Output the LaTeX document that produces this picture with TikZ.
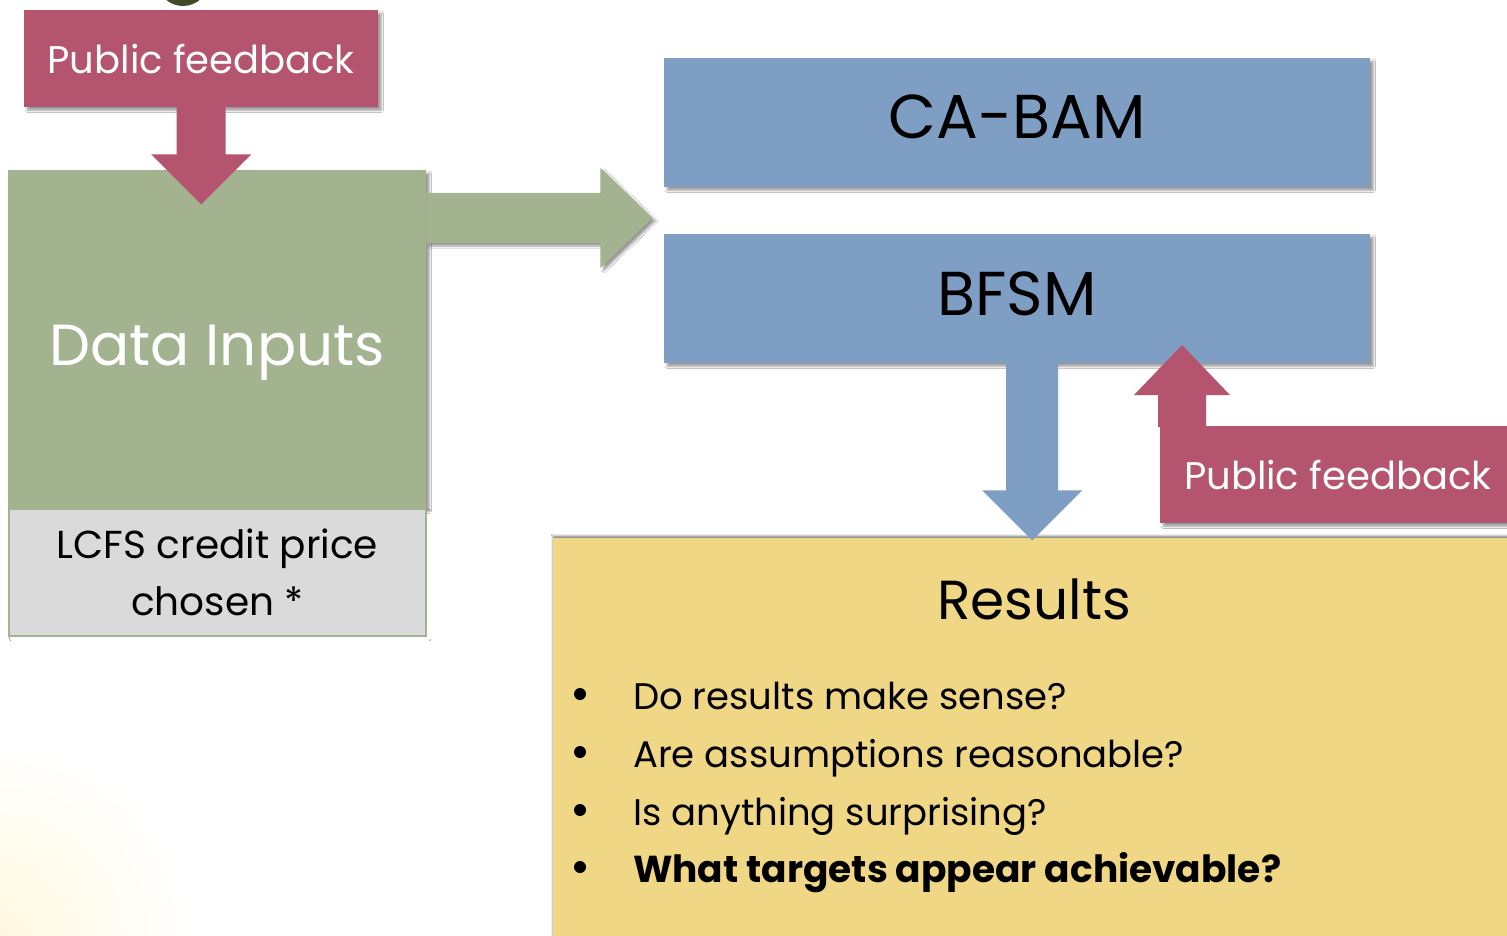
\documentclass[tikz,border=0pt]{standalone}
\usepackage{fontspec}
\setmainfont{Poppins}
\usetikzlibrary{calc,shadows.blur}
\definecolor{pinkc}{HTML}{B5546F}
\definecolor{greenc}{HTML}{A3B38F}
\definecolor{bluec}{HTML}{7F9EC3}
\definecolor{yellowc}{HTML}{F0D785}
\definecolor{greyc}{HTML}{DADADA}
\definecolor{olivec}{HTML}{414B27}
\definecolor{creamc}{HTML}{FFF8E0}
\tikzset{
  shad/.style={blur shadow={shadow xshift=3pt,shadow yshift=-3pt,shadow blur steps=6,shadow opacity=40}},
  box/.style={draw=none,inner sep=0pt,anchor=north west,align=center,shad},
  pbox/.style={box,fill=pinkc,text=white,font=\fontsize{38.5}{42}\selectfont},
  bbox/.style={box,fill=bluec,text=black,font=\fontsize{62}{66}\selectfont},
  item/.style={anchor=base west,inner sep=0pt,font=\fontsize{37}{40}\selectfont},
  dot/.style={circle,fill=black,inner sep=0pt,minimum size=12},
}
\begin{document}
\begin{tikzpicture}[x=1pt,y=-1pt]
\useasboundingbox (0,0) rectangle (1507,936);
\fill[white] (0,0) rectangle (1507,936);
\begin{scope}
\clip (0,0) rectangle (1507,936);
\shade[inner color=creamc,outer color=white] (0,936) circle (190);
\end{scope}
\fill[olivec] (183,-20) circle (26);
% boxes
\node[pbox,minimum width=354,minimum height=97] (pf1) at (24,10) {Public feedback};
\node[box,fill=greenc,text=white,minimum width=418,minimum height=338,font=\fontsize{58}{62}\selectfont] (di) at (8,170) {\raisebox{-14pt}[\height][\depth]{Data Inputs}};
\node[box,fill=greyc,draw=greenc,line width=2pt,minimum width=417,minimum height=127,text=black,font=\fontsize{39}{57}\selectfont,blur shadow={shadow opacity=0}] (lcfs) at (8,508) {LCFS credit price\\chosen *};
\node[bbox,minimum width=706,minimum height=129] (cabam) at (664,58) {\raisebox{6pt}[\height][\depth]{CA-BAM}};
\node[bbox,minimum width=706,minimum height=129] (bfsm) at (664,234) {\raisebox{5pt}[\height][\depth]{BFSM}};
\node[pbox,minimum width=355,minimum height=97] (pf2) at (1160,426) {Public feedback};
\node[box,fill=yellowc,minimum width=960,minimum height=400,blur shadow={shadow xshift=0pt,shadow yshift=2pt,shadow opacity=30}] (res) at (553,538) {};
% arrows
\path ($(di.north east)+(0,48)$) coordinate (ga);
\fill[greenc,shad] (ga) ++(0,-25) -- ++(174,0) -- ++(0,-25) -- ++(52,50) -- ++(-52,50) -- ++(0,-25) -- ++(-174,0) -- cycle;
\path (pf1.south) coordinate (pa);
\fill[pinkc] (pa) ++(-24.5,-1) -- ++(0,48) -- ++(-25.5,0) -- ++(50,50) -- ++(50,-50) -- ++(-25.5,0) -- ++(0,-48) -- cycle;
\path ($(bfsm.south)+(15,0)$) coordinate (ba);
\fill[bluec] (ba) ++(-26,-1) -- ++(0,128) -- ++(-24,0) -- ++(50,50) -- ++(50,-50) -- ++(-24,0) -- ++(0,-128) -- cycle;
\path ($(pf2.north west)+(22,0)$) coordinate (ua);
\fill[pinkc] (ua) ++(-24,1) -- ++(0,-32) -- ++(-24,0) -- ++(48,-50) -- ++(48,50) -- ++(-24,0) -- ++(0,32) -- cycle;
% results text
\node[anchor=base,inner sep=0pt,font=\fontsize{55}{58}\selectfont] (rt) at (1034,619) {Results};
\node[dot] (d1) at (580,694) {};
\node[item] (i1) at (633,709) {Do results make sense?};
\node[dot] (d2) at (580,752) {};
\node[item] (i2) at (633,767) {Are assumptions reasonable?};
\node[dot] (d3) at (580,810) {};
\node[item] (i3) at (633,825) {Is anything surprising?};
\node[dot] (d4) at (580,867) {};
\node[item,font=\fontsize{37.5}{40}\selectfont\bfseries] (i4) at (633,882) {What targets appear achievable?};
\end{tikzpicture}
\end{document}
